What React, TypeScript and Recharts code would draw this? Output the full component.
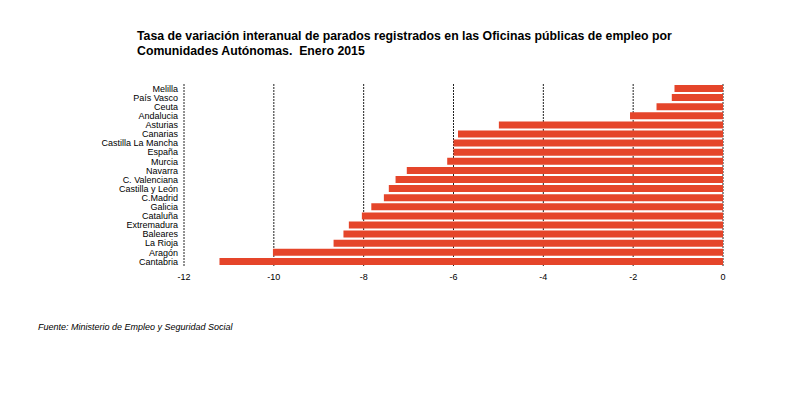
import React from 'react';
import { BarChart, Bar, XAxis, YAxis, CartesianGrid } from 'recharts';

const regions = ['Melilla','País Vasco','Ceuta','Andalucia','Asturias','Canarias','Castilla La Mancha','España','Murcia','Navarra','C. Valenciana','Castilla y León','C.Madrid','Galicia','Cataluña','Extremadura','Baleares','La Rioja','Aragón','Cantabria'];
const rates = [-1.08,-1.14,-1.48,-2.07,-4.99,-5.9,-6.0,-6.0,-6.14,-7.04,-7.29,-7.44,-7.55,-7.83,-8.04,-8.33,-8.45,-8.67,-10.02,-11.21];
const xTicks = [-12,-10,-8,-6,-4,-2,0];

const data = regions.map((r, i) => ({ name: r, value: rates[i] }));

const font = '"Liberation Sans", Arial, sans-serif';

const YTick = (props: any) => {
  const { x, y, payload } = props;
  return (
    <text x={x} y={y} dy="0.35em" textAnchor="end" fontSize={9} fill="#000" fontFamily={font}>
      {payload.value}
    </text>
  );
};

export default function App() {
  return (
    <div style={{ position: 'absolute', left: 0, top: 0, width: 790, height: 396, background: '#fff', fontFamily: font }}>
      <div style={{ position: 'absolute', left: 137, top: 29, fontSize: 12.3, fontWeight: 'bold', lineHeight: '15px', color: '#000', whiteSpace: 'nowrap' }}>
        Tasa de variación interanual de parados registrados en las Oficinas públicas de empleo por<br />
        Comunidades Autónomas.&nbsp; Enero 2015
      </div>
      <BarChart width={790} height={396} layout="vertical" data={data}
        margin={{ top: 84, right: 67, bottom: 100, left: 84 }} barCategoryGap={1}>
        <CartesianGrid horizontal={false} stroke="#222" strokeDasharray="2 1" />
        <XAxis type="number" domain={[-12, 0]} ticks={xTicks} axisLine={false} tickLine={false}
          tickSize={0} tickMargin={8} height={30}
          tick={{ fontSize: 9, fill: '#000', fontFamily: font }} />
        <YAxis type="category" dataKey="name" width={100} axisLine={false} tickLine={false}
          tickSize={0} tickMargin={6} interval={0} tick={<YTick />} />
        <Bar dataKey="value" fill="#E5452A" barSize={7} isAnimationActive={false} />
      </BarChart>
      <div style={{ position: 'absolute', left: 38, top: 322, fontSize: 9, fontStyle: 'italic', color: '#000', whiteSpace: 'nowrap' }}>
        Fuente: Ministerio de Empleo y Seguridad Social
      </div>
    </div>
  );
}
